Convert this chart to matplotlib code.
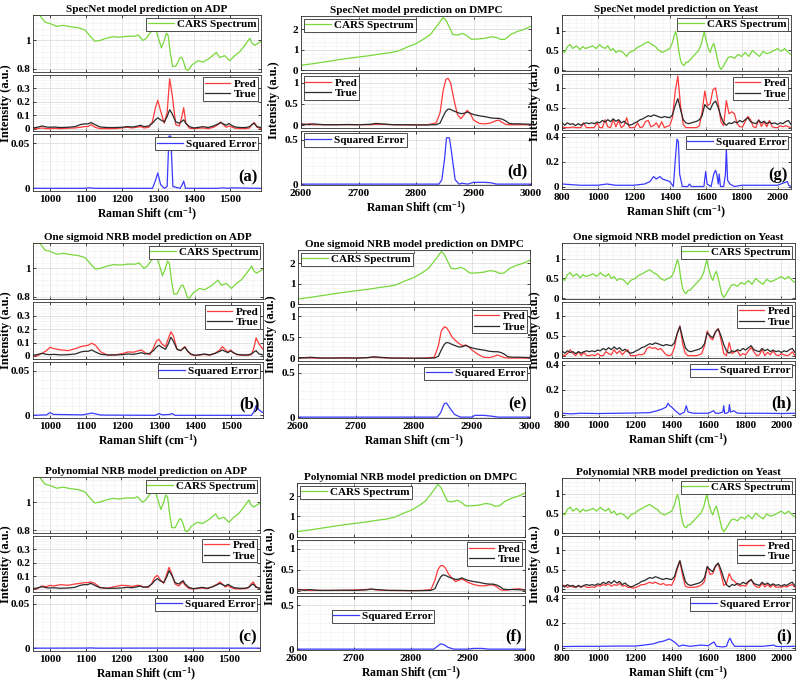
import numpy as np
import matplotlib
matplotlib.use("Agg")
import matplotlib.pyplot as plt
from matplotlib.ticker import AutoMinorLocator, FuncFormatter

plt.rcParams['font.family'] = ['Liberation Serif', 'DejaVu Serif']
plt.rcParams['font.weight'] = 'bold'
plt.rcParams['axes.labelweight'] = 'bold'
plt.rcParams['axes.titleweight'] = 'bold'
plt.rcParams['mathtext.fontset'] = 'custom'
plt.rcParams['mathtext.rm'] = 'Liberation Serif:bold'
plt.rcParams['mathtext.it'] = 'Liberation Serif:bold'
plt.rcParams['mathtext.default'] = 'rm'

# ------------------------------------------------------------------ ADP
adp_cars_x = [953, 972, 986, 1000, 1019, 1037, 1056, 1079, 1097, 1111, 1125, 1139, 1157, 1176, 1194,
              1213, 1236, 1245, 1259, 1268, 1278, 1289, 1296, 1304, 1310, 1317, 1324, 1329, 1335, 1341,
              1350, 1361, 1366, 1372, 1378, 1384, 1396, 1412, 1426, 1444, 1463, 1472, 1486, 1500, 1514,
              1528, 1542, 1556, 1561, 1569, 1587]
adp_cars = [1.18, 1.177, 1.13, 1.12, 1.10, 1.107, 1.098, 1.09, 1.075, 1.034, 0.995, 1.0, 1.016, 1.027,
            1.023, 1.03, 1.03, 1.039, 1.0, 1.016, 1.052, 1.086, 1.064, 1.0, 0.948, 0.993, 1.052, 1.034,
            0.909, 0.818, 0.818, 0.875, 0.882, 0.848, 0.795, 0.789, 0.83, 0.857, 0.848, 0.875, 0.916,
            0.88, 0.893, 0.857, 0.893, 0.92, 0.966, 1.016, 0.984, 0.966, 0.993]

adp_x = [953, 965, 978, 990, 1000, 1010, 1030, 1050, 1070, 1085, 1095, 1105, 1115, 1125, 1140,
         1160, 1180, 1200, 1215, 1230, 1245, 1252, 1262, 1275, 1285, 1293, 1300, 1308, 1318, 1326,
         1333, 1340, 1350, 1360, 1367, 1372, 1378, 1388, 1400, 1415, 1425, 1440, 1455, 1468, 1475,
         1482, 1490, 1498, 1505, 1515, 1530, 1545, 1555, 1562, 1568, 1576, 1587]
adp_true = [0.005, 0.01, 0.02, 0.012, 0.01, 0.012, 0.008, 0.01, 0.015, 0.03, 0.035, 0.035, 0.045, 0.03,
            0.012, 0.008, 0.008, 0.01, 0.015, 0.012, 0.02, 0.025, 0.015, 0.02, 0.04, 0.065, 0.08, 0.065,
            0.05, 0.09, 0.14, 0.11, 0.05, 0.04, 0.055, 0.065, 0.04, 0.015, 0.005, 0.01, 0.015, 0.008,
            0.02, 0.035, 0.045, 0.035, 0.025, 0.038, 0.025, 0.012, 0.008, 0.008, 0.015, 0.03, 0.04,
            0.015, 0.008]
adp_pred_specnet = [0.0, 0.0, 0.005, 0.0, 0.0, 0.002, 0.0, 0.003, 0.005, 0.01, 0.015, 0.015, 0.03, 0.01,
                    0.0, 0.0, 0.0, 0.005, 0.01, 0.005, 0.012, 0.015, 0.005, 0.01, 0.05, 0.15, 0.21, 0.13,
                    0.04, 0.12, 0.37, 0.25, 0.03, 0.02, 0.09, 0.155, 0.04, 0.003, 0.0, 0.003, 0.005, 0.0,
                    0.01, 0.03, 0.05, 0.03, 0.01, 0.02, 0.012, 0.003, 0.0, 0.0, 0.005, 0.03, 0.045, 0.01, 0.0]
adp_pred_sigmoid = [0.0, 0.002, 0.02, 0.04, 0.065, 0.055, 0.045, 0.04, 0.055, 0.07, 0.075, 0.08, 0.095,
                    0.08, 0.03, 0.005, 0.008, 0.018, 0.03, 0.028, 0.04, 0.045, 0.025, 0.01, 0.06, 0.11,
                    0.125, 0.09, 0.07, 0.13, 0.18, 0.15, 0.05, 0.04, 0.06, 0.07, 0.04, 0.01, 0.003, 0.008,
                    0.012, 0.005, 0.02, 0.045, 0.07, 0.05, 0.03, 0.045, 0.025, 0.01, 0.005, 0.005, 0.01,
                    0.06, 0.135, 0.09, 0.05]
adp_pred_poly = [0.0, 0.005, 0.025, 0.02, 0.03, 0.025, 0.035, 0.03, 0.04, 0.045, 0.05, 0.05, 0.055, 0.045,
                 0.015, 0.008, 0.02, 0.03, 0.028, 0.022, 0.03, 0.028, 0.018, 0.015, 0.045, 0.09, 0.105,
                 0.075, 0.045, 0.11, 0.165, 0.12, 0.04, 0.025, 0.045, 0.055, 0.03, 0.008, 0.002, 0.008,
                 0.01, 0.005, 0.02, 0.04, 0.055, 0.04, 0.018, 0.028, 0.015, 0.005, 0.003, 0.005, 0.012,
                 0.04, 0.055, 0.02, 0.005]

adp_err_specnet_x = [953, 1095, 1110, 1125, 1285, 1293, 1300, 1308, 1318, 1326, 1331, 1336, 1342, 1362,
                     1368, 1372, 1377, 1470, 1480, 1495, 1505, 1587]
adp_err_specnet = [0, 0, 0.0005, 0, 0, 0.008, 0.017, 0.004, 0, 0.002, 0.058, 0.058, 0.002, 0, 0.004,
                   0.008, 0, 0, 0.0005, 0, 0.0005, 0]
adp_err_sigmoid_x = [953, 990, 1000, 1010, 1090, 1115, 1140, 1290, 1300, 1310, 1330, 1336, 1345, 1555,
                     1562, 1568, 1576, 1587]
adp_err_sigmoid = [0, 0.0005, 0.003, 0.001, 0.0005, 0.0025, 0.0003, 0, 0.002, 0.0005, 0.001, 0.002, 0,
                   0, 0.004, 0.011, 0.006, 0.003]
adp_err_poly_x = [953, 1100, 1115, 1130, 1300, 1587]
adp_err_poly = [0.0002, 0.0003, 0.0005, 0.0002, 0.0003, 0.0002]

# ------------------------------------------------------------------ DMPC
dmpc_cars_x = [2600, 2620, 2650, 2673, 2700, 2720, 2743, 2757, 2770, 2786, 2800, 2815, 2825, 2832, 2840,
               2847, 2852, 2858, 2864, 2872, 2881, 2888, 2896, 2905, 2920, 2931, 2940, 2948, 2955, 2965,
               2975, 2988, 3000]
dmpc_cars = [0.25, 0.32, 0.45, 0.55, 0.65, 0.72, 0.82, 0.87, 0.95, 1.15, 1.3, 1.55, 1.75, 2.0, 2.3,
             2.57, 2.45, 2.1, 1.75, 1.72, 1.8, 1.7, 1.52, 1.52, 1.56, 1.64, 1.6, 1.5, 1.52, 1.75, 1.88,
             2.0, 2.15]

dmpc_x = [2600, 2610, 2615, 2620, 2640, 2660, 2680, 2700, 2720, 2730, 2740, 2760, 2780, 2800, 2820,
          2835, 2842, 2847, 2852, 2856, 2860, 2866, 2872, 2878, 2884, 2889, 2894, 2900, 2910, 2920,
          2930, 2938, 2944, 2950, 2956, 2962, 2970, 2980, 2990, 3000]
dmpc_true = [0.02, 0.02, 0.01, 0.03, 0.01, 0.01, 0.015, 0.01, 0.02, 0.04, 0.03, 0.01, 0.01, 0.005, 0.005,
             0.01, 0.05, 0.2, 0.33, 0.38, 0.37, 0.33, 0.3, 0.27, 0.28, 0.31, 0.28, 0.25, 0.22, 0.2,
             0.17, 0.16, 0.16, 0.14, 0.1, 0.04, 0.03, 0.03, 0.025, 0.02]
dmpc_pred_specnet = [0.03, 0.01, 0.04, 0.01, 0.01, 0.01, 0.01, 0.01, 0.01, 0.02, 0.02, 0.01, 0.005, 0.005,
                     0.01, 0.05, 0.3, 0.8, 1.08, 1.1, 1.0, 0.6, 0.25, 0.15, 0.25, 0.35, 0.28, 0.12, 0.04,
                     0.03, 0.05, 0.1, 0.12, 0.06, 0.02, 0.01, 0.01, 0.01, 0.01, 0.01]
dmpc_pred_sigmoid = [0.02, 0.01, 0.03, 0.01, 0.01, 0.01, 0.01, 0.01, 0.02, 0.03, 0.02, 0.01, 0.005, 0.005,
                     0.01, 0.03, 0.3, 0.65, 0.75, 0.73, 0.65, 0.5, 0.42, 0.35, 0.3, 0.32, 0.28, 0.2, 0.1,
                     0.03, 0.02, 0.05, 0.08, 0.05, 0.02, 0.01, 0.01, 0.01, 0.01, 0.01]
dmpc_pred_poly = [0.04, 0.02, 0.03, 0.01, 0.01, 0.01, 0.01, 0.02, 0.03, 0.04, 0.02, 0.01, 0.005, 0.005,
                  0.01, 0.03, 0.25, 0.5, 0.6, 0.6, 0.55, 0.4, 0.3, 0.22, 0.25, 0.28, 0.25, 0.2, 0.15,
                  0.12, 0.12, 0.14, 0.14, 0.1, 0.03, 0.01, 0.02, 0.04, 0.05, 0.02]

dmpc_err_specnet_x = [2600, 2840, 2845, 2850, 2853, 2858, 2862, 2868, 2875, 2880, 2890, 2900, 2920, 2930,
                      2940, 3000]
dmpc_err_specnet = [0, 0, 0.05, 0.3, 0.52, 0.52, 0.35, 0.05, 0.0, 0.01, 0.0, 0.02, 0.02, 0.015, 0.0, 0]
dmpc_err_sigmoid_x = [2600, 2840, 2846, 2852, 2856, 2862, 2870, 2880, 2900, 2905, 2920, 2935, 2945, 3000]
dmpc_err_sigmoid = [0, 0, 0.05, 0.15, 0.16, 0.1, 0.03, 0.0, 0.0, 0.02, 0.02, 0.01, 0.0, 0]
dmpc_err_poly_x = [2600, 2840, 2846, 2852, 2858, 2865, 2875, 2900, 2910, 2925, 2935, 3000]
dmpc_err_poly = [0, 0, 0.03, 0.06, 0.05, 0.02, 0.0, 0.0, 0.008, 0.008, 0.0, 0]

# ------------------------------------------------------------------ Yeast
yeast_cars_x = [800, 815, 830, 845, 860, 880, 900, 915, 930, 950, 970, 990, 1010, 1020, 1040, 1055, 1070,
                1085, 1100, 1120, 1140, 1160, 1175, 1200, 1220, 1240, 1260, 1280, 1300, 1320, 1340, 1360,
                1380, 1400, 1415, 1425, 1432, 1440, 1450, 1460, 1470, 1480, 1490, 1500, 1520, 1540, 1560,
                1575, 1585, 1592, 1600, 1615, 1625, 1635, 1645, 1655, 1665, 1675, 1685, 1695, 1710, 1725,
                1740, 1760, 1780, 1800, 1820, 1840, 1860, 1880, 1900, 1920, 1940, 1960, 1980, 2000, 2020,
                2040, 2060, 2075]
yeast_cars = [0.5, 0.45, 0.6, 0.65, 0.55, 0.62, 0.52, 0.6, 0.55, 0.58, 0.62, 0.55, 0.65, 0.6, 0.55, 0.62,
              0.5, 0.55, 0.45, 0.5, 0.45, 0.35, 0.45, 0.5, 0.58, 0.62, 0.68, 0.72, 0.65, 0.6, 0.5, 0.45,
              0.5, 0.55, 0.7, 0.88, 0.98, 0.85, 0.5, 0.25, 0.15, 0.12, 0.2, 0.2, 0.3, 0.4, 0.5, 0.65,
              0.85, 0.98, 0.8, 0.55, 0.45, 0.6, 0.68, 0.5, 0.3, 0.1, 0.02, 0.08, 0.2, 0.32, 0.35, 0.3,
              0.4, 0.35, 0.45, 0.35, 0.5, 0.42, 0.35, 0.48, 0.42, 0.45, 0.5, 0.55, 0.48, 0.55, 0.45, 0.4]

yeast_x = list(range(800, 2076, 15))
yeast_true = [0.12, 0.06, 0.12, 0.08, 0.1, 0.05, 0.1, 0.06, 0.1, 0.12,
              0.1, 0.12, 0.1, 0.14, 0.12, 0.18, 0.14, 0.2, 0.15, 0.22,
              0.16, 0.2, 0.12, 0.16, 0.1, 0.06, 0.08, 0.12, 0.15, 0.2,
              0.22, 0.26, 0.3, 0.28, 0.32, 0.3, 0.27, 0.25, 0.28, 0.26,
              0.25, 0.32, 0.55, 0.73, 0.45, 0.2, 0.12, 0.1, 0.12, 0.14,
              0.16, 0.2, 0.3, 0.58, 0.5, 0.45, 0.6, 0.67, 0.5, 0.28,
              0.12, 0.06, 0.12, 0.1, 0.15, 0.12, 0.18, 0.14, 0.2, 0.25,
              0.15, 0.12, 0.1, 0.18, 0.12, 0.16, 0.1, 0.14, 0.1, 0.12,
              0.08, 0.12, 0.1, 0.15, 0.18, 0.08]
yeast_pred_specnet = [0.02, 0.0, 0.0, 0.0, 0.02, 0.0, 0.0, 0.0, 0.12, 0.0,
                      0.0, 0.0, 0.0, 0.12, 0.0, 0.0, 0.2, 0.02, 0.0, 0.2,
                      0.02, 0.18, 0.0, 0.05, 0.25, 0.0, 0.0, 0.0, 0.12, 0.0,
                      0.02, 0.15, 0.18, 0.02, 0.05, 0.12, 0.0, 0.15, 0.0, 0.03,
                      0.05, 0.25, 0.9, 1.3, 0.55, 0.08, 0.0, 0.0, 0.0, 0.0,
                      0.0, 0.05, 0.4, 0.92, 0.55, 0.6, 0.95, 1.0, 0.6, 0.15,
                      0.05, 0.68, 0.35, 0.4, 0.35, 0.1, 0.02, 0.02, 0.15, 0.28,
                      0.2, 0.02, 0.0, 0.2, 0.03, 0.15, 0.02, 0.18, 0.02, 0.0,
                      0.0, 0.05, 0.02, 0.05, 0.02, 0.0]
yeast_pred_sigmoid = [0.02, 0.0, 0.05, 0.15, 0.05, 0.0, 0.1, 0.0, 0.08, 0.0,
                      0.0, 0.02, 0.0, 0.05, 0.0, 0.0, 0.1, 0.05, 0.02, 0.15,
                      0.05, 0.12, 0.02, 0.1, 0.15, 0.0, 0.0, 0.0, 0.03, 0.02,
                      0.05, 0.18, 0.22, 0.18, 0.2, 0.15, 0.18, 0.1, 0.02, 0.0,
                      0.02, 0.2, 0.55, 0.75, 0.3, 0.05, 0.0, 0.0, 0.0, 0.0,
                      0.02, 0.05, 0.25, 0.62, 0.45, 0.4, 0.6, 0.68, 0.4, 0.05,
                      0.0, 0.33, 0.05, 0.1, 0.12, 0.0, 0.05, 0.02, 0.12, 0.2,
                      0.1, 0.0, 0.02, 0.15, 0.0, 0.08, 0.02, 0.12, 0.02, 0.0,
                      0.05, 0.02, 0.0, 0.02, 0.1, 0.0]
yeast_pred_poly = [0.05, 0.1, 0.05, 0.08, 0.06, 0.05, 0.08, 0.05, 0.1, 0.05,
                   0.05, 0.06, 0.05, 0.1, 0.08, 0.12, 0.1, 0.14, 0.08, 0.12,
                   0.1, 0.15, 0.08, 0.1, 0.05, 0.05, 0.03, 0.05, 0.08, 0.12,
                   0.12, 0.15, 0.18, 0.15, 0.18, 0.15, 0.12, 0.15, 0.1, 0.12,
                   0.1, 0.25, 0.5, 0.72, 0.35, 0.08, 0.05, 0.05, 0.05, 0.06,
                   0.08, 0.12, 0.2, 0.58, 0.38, 0.4, 0.58, 0.65, 0.4, 0.1,
                   0.15, 0.4, 0.25, 0.2, 0.12, 0.08, 0.1, 0.08, 0.18, 0.25,
                   0.12, 0.06, 0.05, 0.15, 0.06, 0.12, 0.05, 0.12, 0.05, 0.06,
                   0.05, 0.08, 0.06, 0.1, 0.12, 0.05]

yeast_err_specnet_x = [800, 900, 1000, 1050, 1100, 1200, 1260, 1290, 1310, 1325, 1345, 1360, 1380, 1400,
                       1420, 1430, 1440, 1448, 1455, 1470, 1500, 1510, 1520, 1590, 1600, 1608, 1630, 1645,
                       1655, 1662, 1670, 1675, 1682, 1700, 1710, 1715, 1722, 1735, 1760, 1800, 1900, 2000,
                       2055, 2062, 2075]
yeast_err_specnet = [0.02, 0.01, 0.01, 0.02, 0.01, 0.01, 0.02, 0.04, 0.08, 0.06, 0.08, 0.06, 0.05, 0.04,
                     0.0, 0.2, 0.38, 0.36, 0.1, 0.0, 0.0, 0.02, 0.0, 0.0, 0.12, 0.02, 0.0, 0.1, 0.13, 0.1,
                     0.02, 0.1, 0.0, 0.0, 0.1, 0.3, 0.05, 0.02, 0.0, 0.01, 0.01, 0.01, 0.04, 0.01, 0.0]
yeast_err_sigmoid_x = [800, 850, 900, 1000, 1100, 1200, 1280, 1320, 1350, 1370, 1380, 1390, 1400, 1420,
                       1445, 1470, 1480, 1490, 1520, 1560, 1600, 1630, 1640, 1660, 1680, 1685, 1690, 1700,
                       1712, 1716, 1722, 1740, 1760, 1800, 1900, 2000, 2075]
yeast_err_sigmoid = [0.01, 0.005, 0.01, 0.008, 0.01, 0.012, 0.015, 0.03, 0.045, 0.06, 0.09, 0.07, 0.06,
                     0.03, 0.0, 0.02, 0.07, 0.02, 0.01, 0.01, 0.01, 0.03, 0.01, 0.01, 0.02, 0.07, 0.01,
                     0.01, 0.02, 0.08, 0.02, 0.03, 0.01, 0.01, 0.01, 0.008, 0.01]
yeast_err_poly_x = [800, 900, 1000, 1100, 1200, 1250, 1300, 1330, 1350, 1370, 1385, 1400, 1420, 1440, 1460,
                    1500, 1560, 1600, 1625, 1632, 1645, 1680, 1700, 1712, 1720, 1730, 1745, 1800, 1900,
                    1960, 1970, 2000, 2075]
yeast_err_poly = [0.008, 0.01, 0.01, 0.012, 0.012, 0.02, 0.03, 0.045, 0.05, 0.06, 0.07, 0.06, 0.04, 0.01,
                  0.02, 0.01, 0.02, 0.015, 0.04, 0.045, 0.01, 0.005, 0.01, 0.06, 0.075, 0.04, 0.01, 0.01,
                  0.01, 0.02, 0.01, 0.008, 0.01]

# ------------------------------------------------------------------ axis setup per sample
axis_cfg = {
    'ADP': dict(xlim=(953, 1587), xticks=[1000, 1100, 1200, 1300, 1400, 1500],
                lims=[(0.78, 1.18), (-0.02, 0.4), (-0.003, 0.06)],
                yticks=[[0.8, 1], [0, 0.1, 0.2, 0.3], [0, 0.05]]),
    'DMPC': dict(xlim=(2600, 3000), xticks=[2600, 2700, 2800, 2900, 3000],
                 lims=[(0, 2.65), (-0.06, 1.22), (-0.01, 0.6)],
                 yticks=[[0, 1, 2], [0, 0.5, 1], [0, 0.5]]),
    'Yeast': dict(xlim=(800, 2075), xticks=[800, 1000, 1200, 1400, 1600, 1800, 2000],
                  lims=[(-0.02, 1.4), (-0.06, 1.35), (-0.02, 0.43)],
                  yticks=[[0, 0.5, 1], [0, 0.5, 1], [0, 0.2, 0.4]]),
}

GREEN = '#78d83c'
RED = '#ff3a3a'
BLACK = '#2a2a2a'
BLUE = '#3a3aff'

# panel: sample, model, letter, pixel box (x0, x1, y0, y1), legend locations
panels = [
    ('ADP', 'SpecNet model', '(a)', (33, 261, 15, 191),
     adp_cars_x, adp_cars, adp_x, adp_true, adp_pred_specnet, adp_err_specnet_x, adp_err_specnet,
     ['upper right', 'upper right', 'upper right']),
    ('DMPC', 'SpecNet model', '(d)', (301, 531, 16, 185),
     dmpc_cars_x, dmpc_cars, dmpc_x, dmpc_true, dmpc_pred_specnet, dmpc_err_specnet_x, dmpc_err_specnet,
     ['upper left', 'upper left', 'upper left']),
    ('Yeast', 'SpecNet model', '(g)', (562, 791, 15, 189),
     yeast_cars_x, yeast_cars, yeast_x, yeast_true, yeast_pred_specnet, yeast_err_specnet_x, yeast_err_specnet,
     ['upper right', 'upper right', 'upper right']),
    ('ADP', 'One sigmoid NRB model', '(b)', (33, 263, 243, 418),
     adp_cars_x, adp_cars, adp_x, adp_true, adp_pred_sigmoid, adp_err_sigmoid_x, adp_err_sigmoid,
     ['upper right', 'upper right', 'upper right']),
    ('DMPC', 'One sigmoid NRB model', '(e)', (298, 530, 250, 418),
     dmpc_cars_x, dmpc_cars, dmpc_x, dmpc_true, dmpc_pred_sigmoid, dmpc_err_sigmoid_x, dmpc_err_sigmoid,
     ['upper left', 'upper right', 'upper right']),
    ('Yeast', 'One sigmoid NRB model', '(h)', (562, 795, 243, 417),
     yeast_cars_x, yeast_cars, yeast_x, yeast_true, yeast_pred_sigmoid, yeast_err_sigmoid_x, yeast_err_sigmoid,
     ['upper right', 'upper right', 'upper right']),
    ('ADP', 'Polynomial NRB model', '(c)', (33, 260, 477, 651),
     adp_cars_x, adp_cars, adp_x, adp_true, adp_pred_poly, adp_err_poly_x, adp_err_poly,
     ['upper right', 'upper right', 'upper right']),
    ('DMPC', 'Polynomial NRB model', '(f)', (297, 525, 483, 650),
     dmpc_cars_x, dmpc_cars, dmpc_x, dmpc_true, dmpc_pred_poly, dmpc_err_poly_x, dmpc_err_poly,
     ['upper left', 'upper right', 'custom']),
    ('Yeast', 'Polynomial NRB model', '(i)', (562, 795, 478, 650),
     yeast_cars_x, yeast_cars, yeast_x, yeast_true, yeast_pred_poly, yeast_err_poly_x, yeast_err_poly,
     ['upper right', 'upper right', 'upper right']),
]

W, H = 798, 685
fig = plt.figure(figsize=(W / 100, H / 100), dpi=100)
fmt = FuncFormatter(lambda v, p: f'{v:g}')


def leg(ax, loc):
    kw = dict(fontsize=8, fancybox=False, edgecolor='#303030', framealpha=1, borderpad=0.15,
              handlelength=2.3, handletextpad=0.3, labelspacing=0.05, borderaxespad=0.25)
    if loc == 'custom':
        l = ax.legend(loc='center left', bbox_to_anchor=(0.14, 0.63), **kw)
    else:
        l = ax.legend(loc=loc, **kw)
    l.get_frame().set_linewidth(0.6)


for (sample, model, letter, box, cx, cy, x, tr, pr, ex, ey, locs) in panels:
    cfg = axis_cfg[sample]
    x0, x1, y0, y1 = box
    gap = 3
    h = (y1 - y0 - 2 * gap) / 3
    axs = []
    for k in range(3):
        top = y0 + k * (h + gap)
        ax = fig.add_axes([x0 / W, 1 - (top + h) / H, (x1 - x0) / W, h / H])
        ax.set_xlim(cfg['xlim'])
        ax.set_xticks(cfg['xticks'])
        ax.set_ylim(cfg['lims'][k])
        ax.set_yticks(cfg['yticks'][k])
        ax.yaxis.set_major_formatter(fmt)
        ax.xaxis.set_minor_locator(AutoMinorLocator(5))
        ax.yaxis.set_minor_locator(AutoMinorLocator(5))
        ax.grid(which='major', color='#d8d8d8', lw=0.5)
        ax.grid(which='minor', color='#f0f0f0', lw=0.4)
        ax.set_axisbelow(True)
        ax.tick_params(which='major', direction='in', length=2, width=0.5, labelsize=8, pad=2,
                       top=True, right=True)
        ax.tick_params(axis='x', pad=3)
        ax.tick_params(which='minor', length=0)
        for s in ax.spines.values():
            s.set_color('#303030')
            s.set_linewidth(0.6)
        if k < 2:
            ax.tick_params(labelbottom=False)
        axs.append(ax)

    axs[0].plot(cx, cy, color=GREEN, lw=0.9, label='CARS Spectrum')
    axs[1].plot(x, pr, color=RED, lw=0.9, label='Pred')
    axs[1].plot(x, tr, color=BLACK, lw=0.9, label='True')
    axs[2].plot(ex, ey, color=BLUE, lw=0.9, label='Squared Error')
    for ax, loc in zip(axs, locs):
        leg(ax, loc)

    axs[0].set_title(f'{model} prediction on {sample}', fontsize=8, pad=2)
    axs[1].set_ylabel('Intensity (a.u.)', fontsize=9, labelpad=3)
    axs[2].set_xlabel('Raman Shift (cm$^{-1}$)', fontsize=8.5, labelpad=1.5)
    axs[2].text(0.985, 0.1, letter, transform=axs[2].transAxes, ha='right', va='bottom',
                fontsize=12, fontweight='bold')

fig.savefig('out.png', dpi=100)
